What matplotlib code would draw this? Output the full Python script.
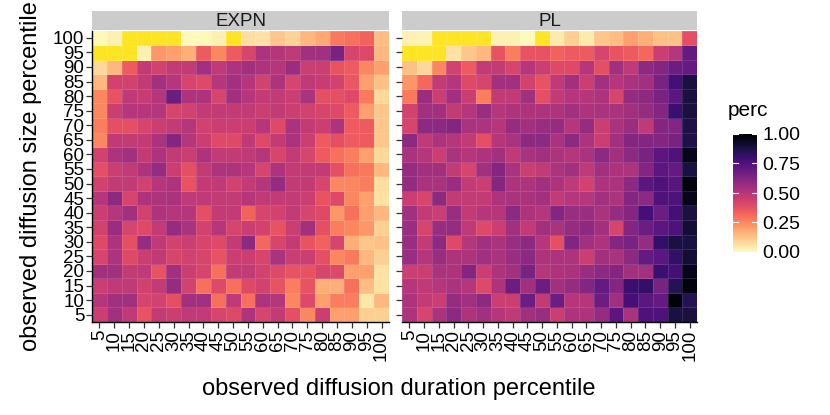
import numpy as np
import matplotlib
matplotlib.use("Agg")
import matplotlib.pyplot as plt
from matplotlib.colors import Normalize

plt.rcParams['font.family'] = ['Liberation Sans', 'DejaVu Sans']

pct_labels = [str(p) for p in range(5, 105, 5)]
nan = np.nan

# rows from top (size 100) to bottom (size 5); columns duration 5 .. 100
expn = [
    [0.01, 0.03, nan, nan, nan, nan, 0.01, 0.01, 0.03, nan, 0.07, 0.06, 0.12, 0.09, 0.15, 0.18, 0.28, 0.30, 0.33, 0.14],
    [nan, nan, nan, 0.03, 0.22, 0.20, 0.17, 0.35, 0.25, 0.35, 0.42, 0.52, 0.50, 0.48, 0.55, 0.55, 0.65, 0.42, 0.40, 0.15],
    [0.08, 0.15, 0.35, 0.47, 0.43, 0.47, 0.47, 0.55, 0.48, 0.52, 0.55, 0.52, 0.50, 0.57, 0.45, 0.45, 0.37, 0.35, 0.25, 0.20],
    [0.15, 0.43, 0.43, 0.47, 0.55, 0.50, 0.42, 0.40, 0.50, 0.55, 0.50, 0.43, 0.52, 0.42, 0.48, 0.46, 0.43, 0.36, 0.20, 0.13],
    [0.25, 0.37, 0.48, 0.46, 0.50, 0.68, 0.52, 0.52, 0.42, 0.55, 0.50, 0.47, 0.47, 0.45, 0.53, 0.38, 0.38, 0.40, 0.28, 0.08],
    [0.25, 0.45, 0.50, 0.50, 0.50, 0.42, 0.43, 0.47, 0.47, 0.47, 0.47, 0.45, 0.47, 0.45, 0.43, 0.42, 0.40, 0.35, 0.20, 0.12],
    [0.27, 0.38, 0.38, 0.42, 0.45, 0.47, 0.50, 0.43, 0.45, 0.45, 0.45, 0.50, 0.40, 0.53, 0.47, 0.45, 0.52, 0.35, 0.35, 0.12],
    [0.25, 0.48, 0.47, 0.47, 0.53, 0.62, 0.50, 0.45, 0.40, 0.40, 0.48, 0.40, 0.47, 0.53, 0.45, 0.35, 0.38, 0.35, 0.35, 0.12],
    [0.43, 0.52, 0.55, 0.47, 0.52, 0.47, 0.45, 0.52, 0.47, 0.47, 0.48, 0.50, 0.42, 0.47, 0.42, 0.35, 0.30, 0.27, 0.20, 0.08],
    [0.38, 0.45, 0.47, 0.52, 0.58, 0.45, 0.38, 0.47, 0.52, 0.52, 0.50, 0.42, 0.52, 0.47, 0.47, 0.47, 0.38, 0.30, 0.28, 0.15],
    [0.43, 0.47, 0.47, 0.43, 0.50, 0.52, 0.37, 0.47, 0.48, 0.43, 0.47, 0.50, 0.58, 0.47, 0.47, 0.42, 0.25, 0.25, 0.27, 0.07],
    [0.50, 0.60, 0.42, 0.52, 0.52, 0.53, 0.48, 0.48, 0.47, 0.47, 0.50, 0.48, 0.47, 0.47, 0.45, 0.37, 0.40, 0.25, 0.20, 0.06],
    [0.45, 0.50, 0.55, 0.43, 0.52, 0.50, 0.50, 0.38, 0.47, 0.47, 0.33, 0.42, 0.43, 0.47, 0.42, 0.40, 0.22, 0.30, 0.20, 0.15],
    [0.43, 0.57, 0.42, 0.40, 0.47, 0.58, 0.53, 0.43, 0.50, 0.42, 0.45, 0.43, 0.37, 0.45, 0.55, 0.38, 0.27, 0.25, 0.22, 0.10],
    [0.40, 0.52, 0.38, 0.58, 0.48, 0.43, 0.45, 0.42, 0.40, 0.47, 0.60, 0.32, 0.42, 0.47, 0.37, 0.33, 0.42, 0.17, 0.12, 0.13],
    [0.42, 0.52, 0.40, 0.45, 0.48, 0.42, 0.43, 0.42, 0.37, 0.45, 0.45, 0.42, 0.53, 0.45, 0.45, 0.38, 0.25, 0.28, 0.15, 0.10],
    [0.55, 0.55, 0.47, 0.48, 0.37, 0.55, 0.45, 0.42, 0.30, 0.47, 0.47, 0.43, 0.40, 0.37, 0.37, 0.42, 0.40, 0.20, 0.20, 0.06],
    [0.45, 0.48, 0.48, 0.43, 0.47, 0.58, 0.43, 0.30, 0.40, 0.30, 0.40, 0.43, 0.37, 0.27, 0.37, 0.17, 0.17, 0.30, 0.14, 0.06],
    [0.50, 0.55, 0.55, 0.42, 0.43, 0.38, 0.55, 0.55, 0.30, 0.48, 0.30, 0.52, 0.50, 0.25, 0.40, 0.20, 0.27, 0.27, 0.05, 0.15],
    [0.45, 0.55, 0.48, 0.37, 0.47, 0.45, 0.48, 0.47, 0.42, 0.40, 0.52, 0.42, 0.47, 0.38, 0.25, 0.45, 0.20, 0.20, 0.10, 0.10],
]

pl = [
    [0.03, 0.02, nan, nan, nan, nan, 0.03, 0.03, 0.01, nan, 0.04, 0.10, 0.04, 0.12, 0.14, 0.20, 0.17, 0.13, 0.13, 0.38],
    [nan, nan, nan, 0.06, 0.12, 0.15, 0.37, 0.27, 0.37, 0.37, 0.33, 0.35, 0.35, 0.42, 0.37, 0.35, 0.32, 0.45, 0.50, 0.70],
    [0.13, 0.08, 0.25, 0.43, 0.35, 0.47, 0.47, 0.42, 0.50, 0.45, 0.40, 0.40, 0.50, 0.38, 0.55, 0.48, 0.60, 0.62, 0.68, 0.70],
    [0.22, 0.32, 0.47, 0.50, 0.40, 0.42, 0.55, 0.55, 0.43, 0.37, 0.48, 0.55, 0.45, 0.55, 0.50, 0.53, 0.55, 0.65, 0.78, 0.88],
    [0.28, 0.57, 0.45, 0.55, 0.45, 0.27, 0.47, 0.47, 0.55, 0.38, 0.47, 0.50, 0.50, 0.52, 0.42, 0.58, 0.60, 0.65, 0.72, 0.88],
    [0.43, 0.55, 0.55, 0.47, 0.50, 0.57, 0.50, 0.52, 0.52, 0.52, 0.52, 0.55, 0.52, 0.53, 0.53, 0.55, 0.58, 0.62, 0.80, 0.88],
    [0.42, 0.60, 0.60, 0.62, 0.53, 0.52, 0.50, 0.58, 0.55, 0.57, 0.58, 0.50, 0.58, 0.45, 0.53, 0.57, 0.48, 0.62, 0.62, 0.87],
    [0.60, 0.48, 0.52, 0.50, 0.47, 0.38, 0.50, 0.53, 0.60, 0.60, 0.53, 0.60, 0.52, 0.45, 0.55, 0.62, 0.62, 0.62, 0.65, 0.87],
    [0.53, 0.50, 0.45, 0.53, 0.50, 0.52, 0.55, 0.48, 0.53, 0.55, 0.52, 0.50, 0.53, 0.60, 0.55, 0.60, 0.65, 0.72, 0.75, 0.95],
    [0.58, 0.55, 0.55, 0.47, 0.42, 0.55, 0.62, 0.53, 0.45, 0.47, 0.52, 0.55, 0.48, 0.55, 0.52, 0.52, 0.62, 0.72, 0.70, 0.88],
    [0.58, 0.53, 0.53, 0.57, 0.47, 0.45, 0.62, 0.52, 0.52, 0.55, 0.52, 0.48, 0.43, 0.52, 0.53, 0.60, 0.72, 0.75, 0.73, 0.97],
    [0.45, 0.42, 0.60, 0.47, 0.47, 0.47, 0.52, 0.53, 0.53, 0.55, 0.47, 0.50, 0.50, 0.55, 0.52, 0.62, 0.60, 0.75, 0.75, 0.95],
    [0.55, 0.47, 0.45, 0.57, 0.47, 0.50, 0.50, 0.60, 0.52, 0.50, 0.62, 0.57, 0.57, 0.53, 0.58, 0.62, 0.78, 0.68, 0.78, 0.88],
    [0.57, 0.42, 0.57, 0.58, 0.48, 0.40, 0.45, 0.55, 0.47, 0.55, 0.53, 0.58, 0.60, 0.55, 0.42, 0.62, 0.68, 0.72, 0.75, 0.90],
    [0.57, 0.47, 0.60, 0.40, 0.50, 0.55, 0.53, 0.57, 0.60, 0.50, 0.38, 0.63, 0.55, 0.52, 0.62, 0.65, 0.58, 0.82, 0.88, 0.88],
    [0.57, 0.50, 0.57, 0.52, 0.52, 0.55, 0.53, 0.57, 0.60, 0.52, 0.52, 0.52, 0.45, 0.55, 0.53, 0.60, 0.70, 0.72, 0.82, 0.90],
    [0.45, 0.45, 0.53, 0.52, 0.62, 0.45, 0.52, 0.55, 0.65, 0.50, 0.52, 0.53, 0.57, 0.60, 0.62, 0.55, 0.55, 0.80, 0.78, 0.95],
    [0.50, 0.48, 0.50, 0.53, 0.50, 0.40, 0.52, 0.68, 0.55, 0.68, 0.55, 0.58, 0.62, 0.70, 0.62, 0.80, 0.82, 0.65, 0.85, 0.97],
    [0.52, 0.47, 0.45, 0.58, 0.55, 0.60, 0.45, 0.45, 0.68, 0.47, 0.68, 0.50, 0.50, 0.68, 0.55, 0.78, 0.72, 0.70, 0.98, 0.85],
    [0.52, 0.42, 0.53, 0.60, 0.52, 0.55, 0.50, 0.48, 0.55, 0.57, 0.45, 0.52, 0.52, 0.58, 0.72, 0.53, 0.75, 0.75, 0.88, 0.88],
]

panels = ["EXPN", "PL"]

cmap = plt.get_cmap("magma_r").copy()
cmap.set_bad("#FDE525")
norm = Normalize(0, 1)

fig = plt.figure(figsize=(8.3, 4.15), dpi=100)
W, H = 830, 415


def box(x0, y0, x1, y1):
    return [x0 / W, 1 - y1 / H, (x1 - x0) / W, (y1 - y0) / H]


ax_boxes = [box(92, 30.5, 389, 322), box(402, 30.5, 697, 322)]
strip_boxes = [box(92, 11, 389, 30), box(402, 11, 697, 30)]

edges = np.arange(21)
centers = np.arange(20) + 0.5

for i, (name, data) in enumerate(zip(panels, [expn, pl])):
    ax = fig.add_axes(ax_boxes[i])
    z = np.ma.masked_invalid(np.array(data)[::-1])
    mesh = ax.pcolormesh(edges, edges, z, cmap=cmap, norm=norm,
                         edgecolors=(1, 1, 1, 0.12), linewidth=0.4)
    ax.set_xlim(0, 20)
    ax.set_ylim(0, 20)
    ax.set_xticks(centers)
    ax.set_xticklabels(pct_labels, rotation=90, fontsize=13.5)
    ax.set_yticks(centers)
    if i == 0:
        ax.set_yticklabels(pct_labels, fontsize=13.5)
    else:
        ax.set_yticklabels([])
        ax.tick_params(axis='y', length=0)
    for s in ["top", "right"]:
        ax.spines[s].set_visible(False)
    if i == 1:
        ax.spines["left"].set_visible(False)
    ax.spines["bottom"].set_linewidth(1.0)
    ax.spines["left"].set_linewidth(1.0)
    ax.tick_params(length=4, width=0.9, pad=1.5, color="#333333")

    sax = fig.add_axes(strip_boxes[i])
    sax.set_facecolor("#cccccc")
    sax.set_xticks([])
    sax.set_yticks([])
    for s in sax.spines.values():
        s.set_visible(False)
    sax.text(0.5, 0.45, name, ha="center", va="center", fontsize=13.5, color="#1a1a1a")

fig.text(399 / W, 1 - 389 / H, "observed diffusion duration percentile",
         ha="center", va="center", fontsize=17)
fig.text(31 / W, 1 - 176 / H, "observed diffusion size percentile",
         ha="center", va="center", rotation=90, fontsize=17)

cax = fig.add_axes(box(733, 134, 757, 252))
cb = fig.colorbar(mesh, cax=cax, ticks=[0, 0.25, 0.5, 0.75, 1.0])
cb.outline.set_visible(False)
cb.ax.set_yticklabels(["0.00", "0.25", "0.50", "0.75", "1.00"], fontsize=14)
cb.ax.tick_params(length=0, pad=4)
for t in [0, 0.25, 0.5, 0.75, 1.0]:
    cax.plot([0, 0.2], [t, t], color="white", lw=0.8)
    cax.plot([0.8, 1], [t, t], color="white", lw=0.8)
cax.set_xlim(0, 1)
fig.text(728 / W, 1 - 110 / H, "perc", ha="left", va="center", fontsize=15)

fig.savefig("out.png", dpi=100)
